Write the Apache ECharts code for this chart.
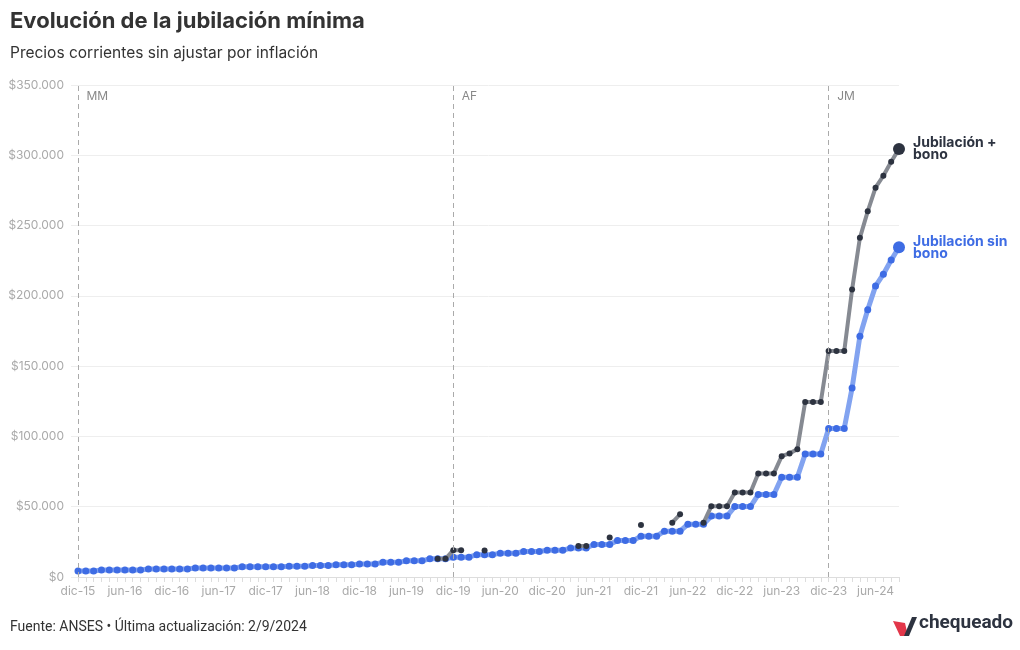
<!DOCTYPE html>
<html>
<head>
<meta charset="utf-8">
<script src="https://cdn.jsdelivr.net/npm/echarts@6/dist/echarts.min.js"></script>
<style>
html,body{margin:0;padding:0;background:#fff;}
#chart{width:1020px;height:650px;}
</style>
</head>
<body>
<div id="chart"></div>
<script>
const categories = [
'dic-15',
'ene-16','feb-16','mar-16','abr-16','may-16','jun-16','jul-16','ago-16','sep-16','oct-16','nov-16','dic-16',
'ene-17','feb-17','mar-17','abr-17','may-17','jun-17','jul-17','ago-17','sep-17','oct-17','nov-17','dic-17',
'ene-18','feb-18','mar-18','abr-18','may-18','jun-18','jul-18','ago-18','sep-18','oct-18','nov-18','dic-18',
'ene-19','feb-19','mar-19','abr-19','may-19','jun-19','jul-19','ago-19','sep-19','oct-19','nov-19','dic-19',
'ene-20','feb-20','mar-20','abr-20','may-20','jun-20','jul-20','ago-20','sep-20','oct-20','nov-20','dic-20',
'ene-21','feb-21','mar-21','abr-21','may-21','jun-21','jul-21','ago-21','sep-21','oct-21','nov-21','dic-21',
'ene-22','feb-22','mar-22','abr-22','may-22','jun-22','jul-22','ago-22','sep-22','oct-22','nov-22','dic-22',
'ene-23','feb-23','mar-23','abr-23','may-23','jun-23','jul-23','ago-23','sep-23','oct-23','nov-23','dic-23',
'ene-24','feb-24','mar-24','abr-24','may-24','jun-24','jul-24','ago-24','sep-24'
];

const sinBono = [
4299,4299,4299,4959,4959,4959,4959,4959,4959,5661,
5661,5661,5661,5661,5661,6395,6395,6395,6395,6395,
6395,7247,7247,7247,7247,7247,7247,7660,7660,7660,
8096,8096,8096,8638,8638,8638,9308,9308,9308,10410,
10410,10410,11528,11528,11528,12937,12937,12937,14068,14068,
14068,15891,15891,15891,16864,16864,16864,18129,18129,18129,
19035,19035,19035,20571,20571,20571,23065,23065,23065,25922,
25922,25922,29062,29062,29062,32630,32630,32630,37525,37525,
37525,43353,43353,43353,50124,50124,50124,58665,58665,58665,
70938,70938,70938,87460,87460,87460,105713,105713,105713,134445,
171284,190142,206931,215424,225455,234540
];

const conBono = [
null,null,null,null,null,null,null,null,null,null,
null,null,null,null,null,null,null,null,null,null,
null,null,null,null,null,null,null,null,null,null,
null,null,null,null,null,null,null,null,null,null,
null,null,null,null,null,null,12937,12937,19068,19068,
null,null,18891,null,null,null,null,null,null,null,
null,null,null,null,22071,22071,null,null,28065,null,
null,null,37062,null,null,null,38630,44630,null,null,
38525,50353,50353,50353,60124,60124,60124,73665,73665,73665,
85938,87938,90938,124460,124460,124460,160713,160713,160713,204445,
241284,260142,276931,285424,295455,304540
];

const eraNames = ['MM','AF','JM'];
const eraStarts = ['dic-15','dic-19','dic-23'];

const seriesNames = ['Jubilación sin bono','Jubilación + bono'];
const endLabels = ['Jubilación sin\nbono','Jubilación +\nbono'];

function withBigLast(arr){
  const out = arr.slice();
  const i = out.length - 1;
  out[i] = {value: out[i], symbolSize: 12};
  return out;
}
function fmtMoney(v){
  return '$' + String(v).replace(/\B(?=(\d{3})+(?!\d))/g, '.');
}

const FONT = 'Inter, "Noto Sans", sans-serif';
const chart = echarts.init(document.getElementById('chart'));
chart.setOption({
  animation: false,
  backgroundColor: '#fff',
  textStyle: {fontFamily: FONT},
  title: [
    {text: 'Evolución de la jubilación mínima', left: 10, top: 10, padding: 0,
     textStyle: {fontFamily: FONT, fontSize: 22, fontWeight: 700, color: '#333'}},
    {text: 'Precios corrientes sin ajustar por inflación', left: 10, top: 45, padding: 0,
     textStyle: {fontFamily: FONT, fontSize: 15.5, fontWeight: 400, color: '#333'}},
    {text: 'Fuente: ANSES • Última actualización: 2/9/2024', left: 10, top: 620, padding: 0,
     textStyle: {fontFamily: 'Roboto, sans-serif', fontSize: 14, fontWeight: 400, color: '#333'}}
  ],
  grid: {left: 78, right: 121, top: 85, bottom: 73, containLabel: false},
  xAxis: {
    type: 'category',
    data: categories,
    boundaryGap: false,
    axisLine: {show: true, lineStyle: {color: '#ddd'}},
    axisTick: {show: true, interval: 0, length: 5, lineStyle: {color: '#ddd'}},
    axisLabel: {interval: 5, color: '#aaa', fontSize: 12, margin: 8, fontFamily: FONT},
    splitLine: {show: false}
  },
  yAxis: {
    type: 'value',
    min: 0, max: 350000, interval: 50000,
    axisLine: {show: false},
    axisTick: {show: true, length: 7, lineStyle: {color: '#eee'}},
    axisLabel: {color: '#aaa', fontSize: 12, margin: 14, formatter: fmtMoney, fontFamily: FONT},
    splitLine: {show: true, lineStyle: {color: '#eee', width: 1}}
  },
  series: [
    {
      name: seriesNames[0],
      type: 'line',
      data: withBigLast(sinBono),
      symbol: 'circle',
      symbolSize: 7,
      showSymbol: true,
      showAllSymbol: true,
      itemStyle: {color: '#3e6ce4'},
      lineStyle: {color: '#82a3f0', width: 5},
      z: 2,
      endLabel: {
        show: true, formatter: endLabels[0], color: '#3e6ce4',
        fontWeight: 700, fontSize: 14, lineHeight: 12, distance: 14, fontFamily: FONT
      },
      markLine: {
        silent: true,
        symbol: ['none','none'],
        label: {show: false},
        lineStyle: {type: [5,4], color: '#aaa', width: 1},
        data: eraStarts.map(c => ({xAxis: c}))
      },
      markPoint: {
        silent: true,
        symbol: 'circle',
        symbolSize: 1,
        itemStyle: {color: 'rgba(0,0,0,0)'},
        label: {show: true, position: 'right', formatter: '{b}', color: '#888', fontSize: 12, offset: [3, 11], fontFamily: FONT},
        data: eraStarts.map((c, i) => ({name: eraNames[i], coord: [c, 350000]}))
      }
    },
    {
      name: seriesNames[1],
      type: 'line',
      data: withBigLast(conBono),
      connectNulls: false,
      symbol: 'circle',
      symbolSize: 6,
      showSymbol: true,
      showAllSymbol: true,
      itemStyle: {color: '#2d3340'},
      lineStyle: {color: '#868a92', width: 4},
      z: 3,
      endLabel: {
        show: true, formatter: endLabels[1], color: '#2d3340',
        fontWeight: 700, fontSize: 14, lineHeight: 12, distance: 14, fontFamily: FONT
      }
    }
  ],
  graphic: [
    {type: 'polygon', shape: {points: [[893,621],[905,623],[908,636],[900,636]]}, style: {fill: '#e2374a'}},
    {type: 'polygon', shape: {points: [[904,636],[912,617],[917,617],[909,636]]}, style: {fill: '#2d3340'}},
    {type: 'text', left: 919, top: 614, style: {text: 'chequeado', fill: '#2d3340', font: '700 19px Roboto, sans-serif'}}
  ]
});
</script>
</body>
</html>
